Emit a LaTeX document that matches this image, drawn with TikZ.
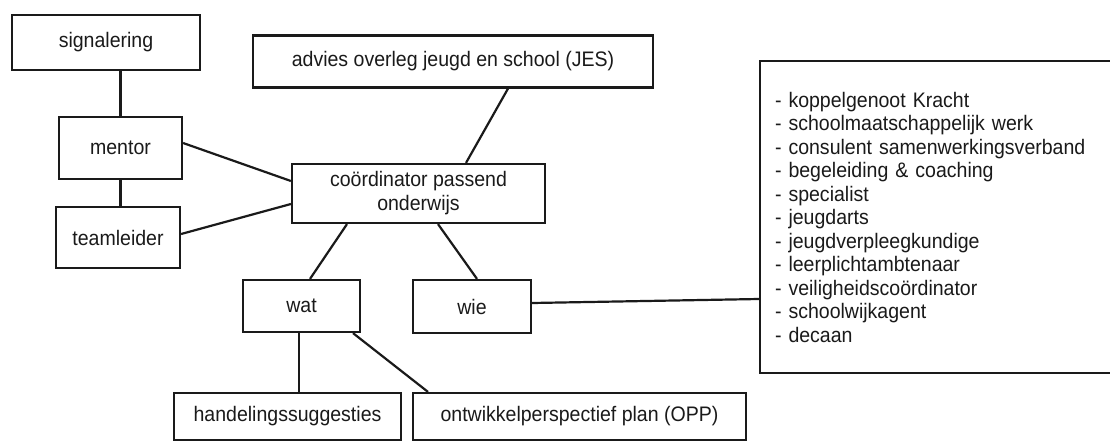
\documentclass[tikz,border=0pt]{standalone}
\usepackage{fontspec}
\setmainfont[FakeStretch=0.93]{Liberation Sans}
\usetikzlibrary{calc}
\definecolor{ink}{HTML}{1A1A1A}
\begin{document}
\begin{tikzpicture}[x=1pt,y=-1pt,
  box/.style={draw=ink,line width=2.2pt,fill=white,inner sep=0pt,align=center,
    font=\fontsize{21}{24}\selectfont,text=ink},
  conn/.style={draw=ink,line width=2.2pt}]
\useasboundingbox (0,0) rectangle (1110,442);
\node[box,minimum width=188pt,minimum height=55pt] (sig) at (106,42.5) {signalering};
\node[box,minimum width=123pt,minimum height=62pt] (mentor) at (120.5,148) {mentor};
\node[box,minimum width=124pt,minimum height=61pt] (team) at (118,237.5) {teamleider};
\node[box,minimum width=400pt,minimum height=52pt] (advies) at (453,61.5) {advies overleg jeugd en school (JES)};
\node[box,minimum width=253pt,minimum height=59pt] (coord) at (418.5,193.5) {coördinator passend\\onderwijs};
\node[box,minimum width=117pt,minimum height=52pt] (wat) at (301.5,306) {wat};
\node[box,minimum width=118pt,minimum height=53pt] (wie) at (472,306.5) {wie};
\node[box,minimum width=227pt,minimum height=47pt] (hand) at (287.5,416.5) {handelingssuggesties};
\node[box,minimum width=333pt,minimum height=47pt] (ontw) at (579.5,416.5) {ontwikkelperspectief plan (OPP)};
\node[box,minimum height=312pt,text width=322pt,inner xsep=15pt,align=left,
  font=\fontsize{21}{23.5}\selectfont] (list) at (936,217)
  {- koppelgenoot Kracht\\
   - schoolmaatschappelijk werk\\
   - consulent samenwerkingsverband\\
   - begeleiding \& coaching\\
   - specialist\\
   - jeugdarts\\
   - jeugdverpleegkundige\\
   - leerplichtambtenaar\\
   - veiligheidscoördinator\\
   - schoolwijkagent\\
   - decaan};
\draw[conn] (mentor.north |- sig.south) -- (mentor.north);
\draw[conn] (mentor.south) -- (mentor.south |- team.north);
\draw[conn] ([yshift=5pt]mentor.east) -- ([yshift=12.5pt]coord.west);
\draw[conn] ([yshift=3.5pt]team.east) -- ([yshift=-10.5pt]coord.west);
\draw[conn] ([xshift=55pt]advies.south) -- ([xshift=47.5pt]coord.north);
\draw[conn] ([xshift=-71.5pt]coord.south) -- ([xshift=8.5pt]wat.north);
\draw[conn] ([xshift=19.5pt]coord.south) -- ([xshift=5pt]wie.north);
\draw[conn] ([xshift=-2.5pt]wat.south) -- ([xshift=-2.5pt]wat.south |- hand.north);
\draw[conn] ([xshift=51.5pt]wat.south) -- ([xshift=-151.5pt]ontw.north);
\draw[conn] ([yshift=3.5pt]wie.east) -- ([yshift=-82pt]list.west);
\end{tikzpicture}
\end{document}
